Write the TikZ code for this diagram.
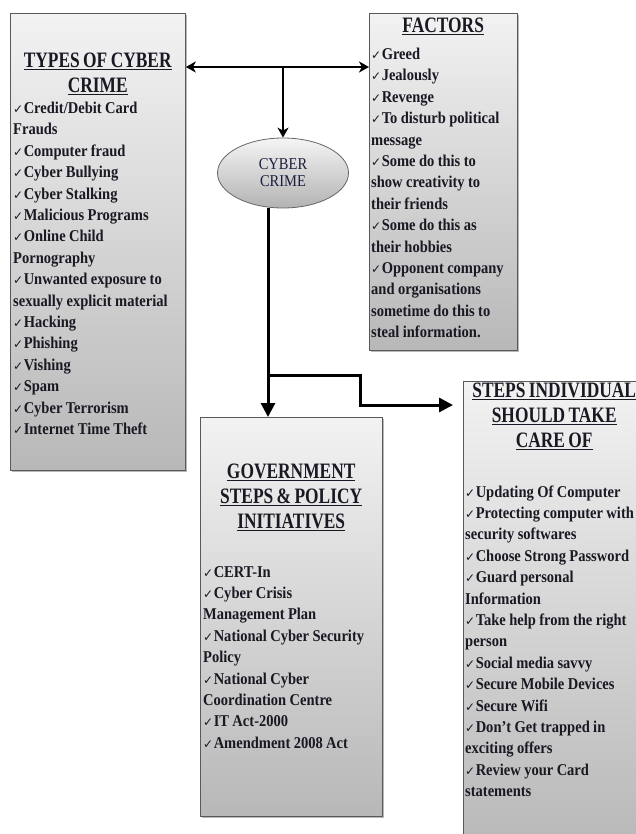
\documentclass[tikz,border=0pt]{standalone}
\usepackage{fontspec}
\setmainfont{Liberation Serif}
\newfontfamily\bodyfont{Liberation Serif}[FakeStretch=0.88]
\newfontfamily\headfont{Liberation Serif}[FakeStretch=0.79]
\newfontfamily\tickfont{DejaVu Sans}
\usetikzlibrary{positioning,arrows.meta,shadows,shapes.geometric,calc}

\definecolor{ink}{RGB}{25,25,35}
\definecolor{hubink}{RGB}{25,30,60}
\newcommand{\tickmark}{{\tickfont\fontsize{12}{12}\selectfont ✓}\hspace{0.5pt}}
\newcommand{\hdul}[1]{\leavevmode\setbox0\hbox{#1}\rlap{\rule[-3.2pt]{\wd0}{1.6pt}}\box0}
\newcommand{\panelhead}{\centering\headfont\bfseries\fontsize{22}{25}\selectfont}
\newcommand{\listfont}{\bodyfont\bfseries\fontsize{16.5}{21.4}\selectfont}
\newcommand{\tightwords}{\spaceskip=3.4pt plus 1pt minus 0.5pt\relax}

\tikzset{
  panel/.style={draw=black!65, line width=0.8pt, top color=black!5, bottom color=black!28,
    drop shadow={shadow xshift=1.5pt, shadow yshift=-1.5pt, opacity=0.55},
    inner sep=0pt, anchor=north west},
  paneltext/.style={anchor=north west, inner sep=0pt, align=left, text=ink, font=\listfont},
  hub/.style={ellipse, draw=black!60, line width=0.8pt, top color=black!4, bottom color=black!30,
    minimum width=131pt, minimum height=70pt, inner sep=0pt, align=center, text=hubink,
    font=\bodyfont\fontsize{16.5}{17}\selectfont},
  link/.style={line width=2.4pt, {Stealth[length=10pt,width=11pt,inset=3pt]}-{Stealth[length=10pt,width=11pt,inset=3pt]}},
  linkdown/.style={line width=2.4pt, -{Stealth[length=10pt,width=11pt,inset=3pt]}},
  flow/.style={line width=3pt, -{Triangle[length=14pt,width=14pt]}}
}

\begin{document}
\begin{tikzpicture}[x=1pt,y=-1pt]
  \useasboundingbox (0,0) rectangle (636,834);
  \clip (0,0) rectangle (636,834);

  % panels
  \node[panel, minimum width=175pt, minimum height=457pt] (types) at (10,13) {};
  \node[panel, minimum width=148pt, minimum height=337pt] (factors) at (369,13) {};
  \node[panel, minimum width=182pt, minimum height=399pt] (gov) at (200,417) {};
  \node[panel, minimum width=182pt, minimum height=470pt] (steps) at (463,381) {};

  % panel texts
  \node[paneltext, text width=169pt] (typeslist) at (13,52.4) {\tightwords
    {\panelhead\hdul{TYPES OF CYBER}\\\hdul{CRIME}\par}
    \tickmark Credit/Debit Card\\
    Frauds\\
    \tickmark Computer fraud\\
    \tickmark Cyber Bullying\\
    \tickmark Cyber Stalking\\
    \tickmark Malicious Programs\\
    \tickmark Online Child\\
    Pornography\\
    \tickmark Unwanted exposure to\\
    sexually explicit material\\
    \tickmark Hacking\\
    \tickmark Phishing\\
    \tickmark Vishing\\
    \tickmark Spam\\
    \tickmark Cyber Terrorism\\
    \tickmark Internet Time Theft};

  \node[paneltext, text width=144pt] (factorslist) at (371,17.4) {\tightwords
    {\panelhead\hdul{FACTORS}\par}
    \vspace{6pt}
    \tickmark Greed\\
    \tickmark Jealously\\
    \tickmark Revenge\\
    \tickmark To disturb political\\
    message\\
    \tickmark Some do this to\\
    show creativity to\\
    their friends\\
    \tickmark Some do this as\\
    their hobbies\\
    \tickmark Opponent company\\
    and organisations\\
    sometime do this to\\
    steal information.};

  \node[paneltext, text width=176pt] (govlist) at (203,463.4) {\tightwords
    {\panelhead\hdul{GOVERNMENT}\\\hdul{STEPS \& POLICY}\\\hdul{INITIATIVES}\par}
    \vspace{27.6pt}
    \tickmark CERT-In\\
    \tickmark Cyber Crisis\\
    Management Plan\\
    \tickmark National Cyber Security\\
    Policy\\
    \tickmark National Cyber\\
    Coordination Centre\\
    \tickmark IT Act-2000\\
    \tickmark Amendment 2008 Act};

  \node[paneltext, text width=178pt] (stepslist) at (465,382.4) {\tightwords
    {\panelhead\hdul{STEPS INDIVIDUAL}\\\hdul{SHOULD TAKE}\\\hdul{CARE OF}\par}
    \vspace{28.6pt}
    \tickmark Updating Of Computer\\
    \tickmark Protecting computer with\\
    security softwares\\
    \tickmark Choose Strong Password\\
    \tickmark Guard personal\\
    Information\\
    \tickmark Take help from the right\\
    person\\
    \tickmark Social media savvy\\
    \tickmark Secure Mobile Devices\\
    \tickmark Secure Wifi\\
    \tickmark Don’t Get trapped in\\
    exciting offers\\
    \tickmark Review your Card\\
    statements};

  % centre
  \node[hub] (crime) at (283,173) {CYBER\\CRIME};

  % connectors
  \coordinate (split) at (283,67);
  \draw[link] (types.east |- split) -- (factors.west |- split);
  \draw[linkdown] (split) -- (crime.north);
  \coordinate (fork) at (268,375);
  \coordinate (bend) at (360,375);
  \coordinate (drop) at (360,405);
  \draw[flow] (fork |- crime.south) -- (fork |- gov.north);
  \draw[flow, shorten >=10pt] (fork) -- (bend) -- (drop) -- (drop -| steps.west);
\end{tikzpicture}
\end{document}
